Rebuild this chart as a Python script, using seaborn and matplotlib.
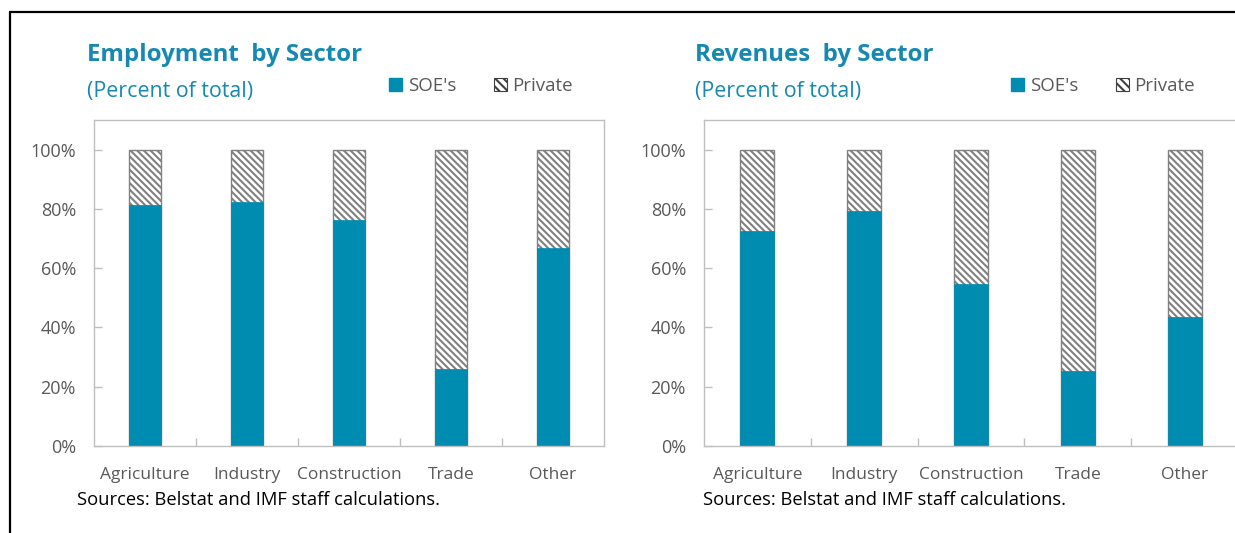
import matplotlib
matplotlib.use("Agg")
import matplotlib.pyplot as plt
from matplotlib.patches import Patch
from matplotlib.lines import Line2D
import seaborn as sns

sectors = ["Agriculture", "Industry", "Construction", "Trade", "Other"]

# employment shares (percent of total)
emp_soe = [81.4, 82.3, 76.2, 26.1, 66.8]
emp_private = [18.6, 17.7, 23.8, 73.9, 33.2]

# revenue shares (percent of total)
rev_soe = [72.5, 79.4, 54.5, 25.4, 43.5]
rev_private = [27.5, 20.6, 45.5, 74.6, 56.5]

y_ticks = [0, 20, 40, 60, 80, 100]
y_labels = ["0%", "20%", "40%", "60%", "80%", "100%"]

BLUE = "#008bb0"
TITLE_BLUE = "#1589b2"
GREY_TXT = "#595959"
AXIS_GREY = "#bfbfbf"
HATCH = "\\\\\\\\\\"

sns.set_style("white")
plt.rcParams["font.family"] = ["Open Sans", "DejaVu Sans"]
plt.rcParams["hatch.color"] = "#4a4a4a"
plt.rcParams["hatch.linewidth"] = 1.5

fig = plt.figure(figsize=(12.35, 5.33), dpi=100)
W, H = 1235, 533


def panel(left_px, width_px, soe, private, title, text_x, src_x, leg_x):
    ax = fig.add_axes([left_px / W, (H - 446) / H, width_px / W, 326 / H])
    total = [s + p for s, p in zip(soe, private)]
    # private part drawn as the full stack, SOE drawn on top of it
    sns.barplot(x=sectors, y=total, ax=ax, color="white", width=0.32,
                edgecolor="#808080", linewidth=1.0, saturation=1)
    for p in ax.patches:
        p.set_hatch(HATCH)
    sns.barplot(x=sectors, y=soe, ax=ax, color=BLUE, width=0.32,
                edgecolor=BLUE, linewidth=0.5, saturation=1)
    ax.set_xlim(-0.5, len(sectors) - 0.5)
    ax.set_ylim(0, 110)
    ax.set_yticks(y_ticks)
    ax.set_yticklabels(y_labels)
    ax.set_xticks(range(len(sectors)))
    ax.set_xticks([i + 0.5 for i in range(len(sectors) - 1)], minor=True)
    ax.tick_params(axis="x", which="major", length=0, labelsize=12.5,
                   labelcolor=GREY_TXT, pad=15)
    ax.tick_params(axis="x", which="minor", direction="in", length=6,
                   color=AXIS_GREY, width=1, bottom=True)
    ax.tick_params(axis="y", direction="in", length=6, color=AXIS_GREY,
                   width=1, left=True, labelsize=13, labelcolor=GREY_TXT,
                   pad=13)
    for s in ax.spines.values():
        s.set_color(AXIS_GREY)
        s.set_linewidth(1.0)
    ax.set_xlabel("")
    ax.set_ylabel("")

    fig.text(text_x / W, 1 - 55 / H, title, fontsize=17.3, fontweight="bold",
             color=TITLE_BLUE, va="center", ha="left")
    fig.text(text_x / W, 1 - 91 / H, "(Percent of total)", fontsize=15.4,
             color=TITLE_BLUE, va="center", ha="left")
    fig.text(src_x / W, 1 - 500 / H,
             "Sources: Belstat and IMF staff calculations.",
             fontsize=13.2, color="black", va="center", ha="left")

    handles = [Patch(facecolor=BLUE, edgecolor=BLUE, label="SOE's"),
               Patch(facecolor="white", edgecolor="#404040", hatch="\\\\\\\\",
                     linewidth=0.8, label="Private")]
    fig.legend(handles=handles, loc="center left",
               bbox_to_anchor=(leg_x / W, 1 - 86 / H),
               ncol=2, frameon=False, fontsize=13.5, labelcolor=GREY_TXT,
               handlelength=0.7, handleheight=0.7, handletextpad=0.3,
               columnspacing=2.0, borderaxespad=0, borderpad=0)
    return ax


panel(94, 510, emp_soe, emp_private, "Employment  by Sector", 87, 77, 389)
panel(704, 534, rev_soe, rev_private, "Revenues  by Sector", 695, 703, 1011)

# outer frame (left and top edges visible in the source)
fig.add_artist(Line2D([10 / W, 10 / W], [0, 1 - 12 / H], color="black",
                      linewidth=1.6, transform=fig.transFigure))
fig.add_artist(Line2D([10 / W, 1], [1 - 12 / H, 1 - 12 / H], color="black",
                      linewidth=1.6, transform=fig.transFigure))

fig.savefig("out.png", dpi=100)
